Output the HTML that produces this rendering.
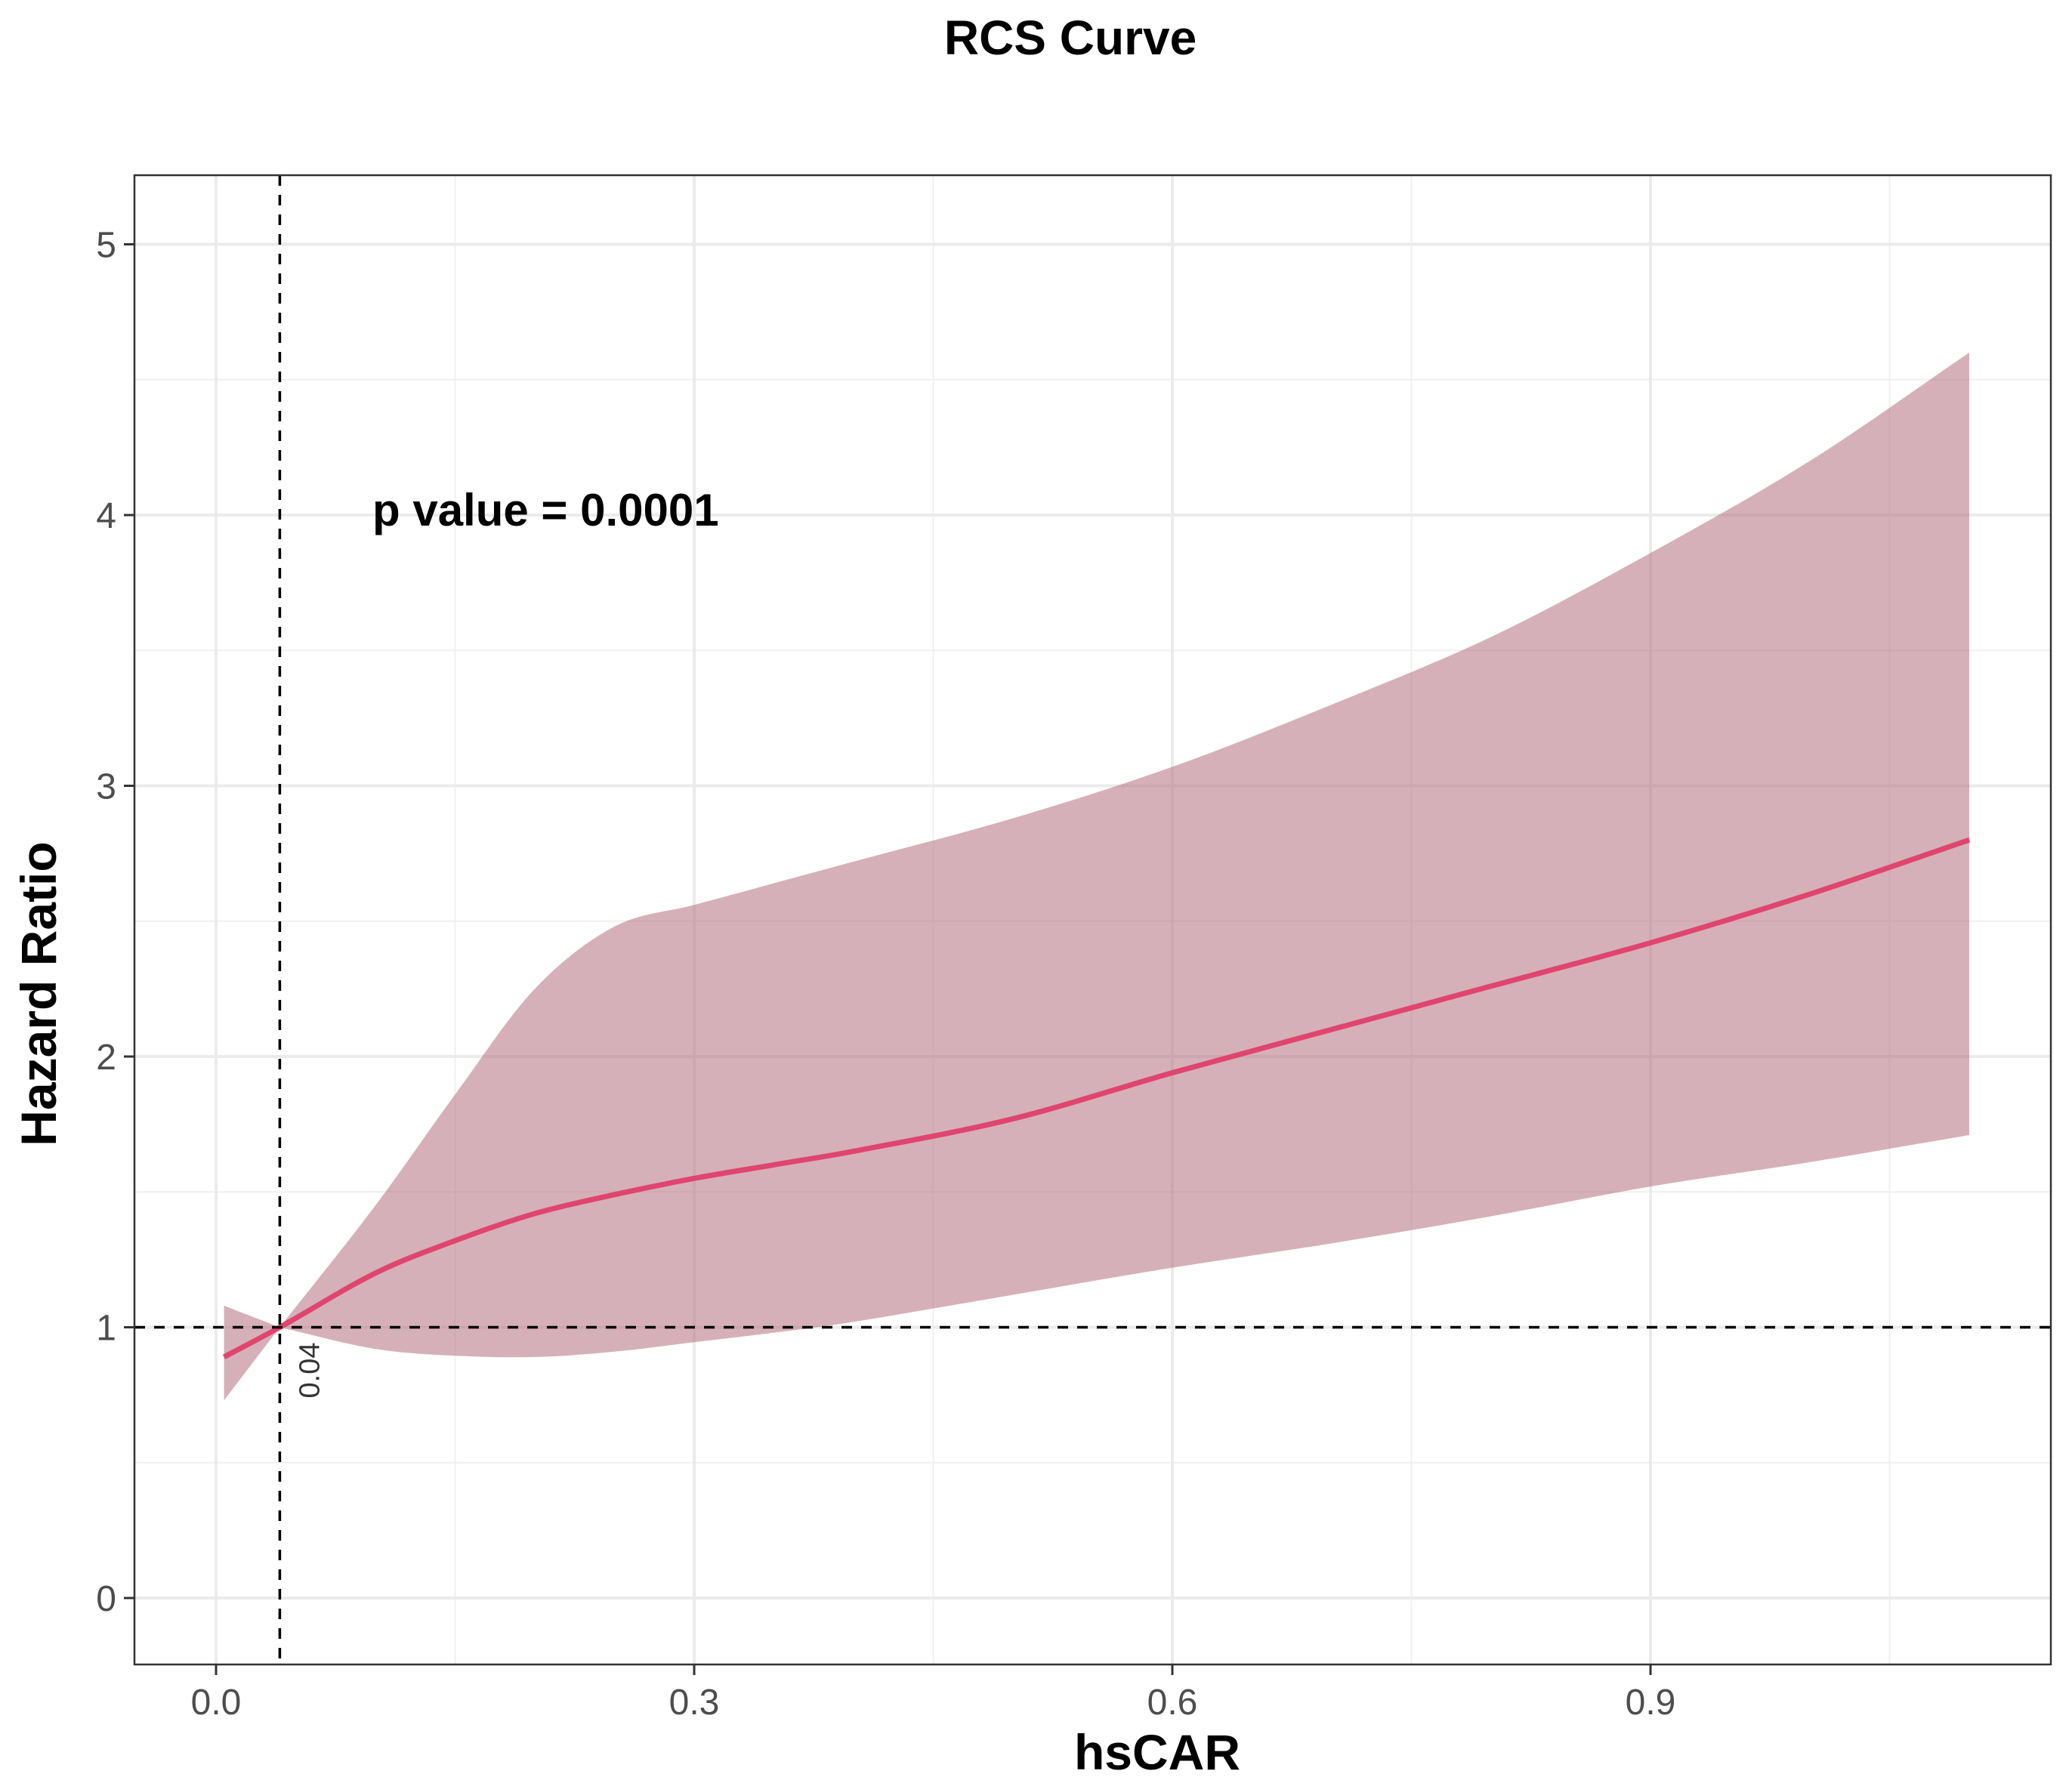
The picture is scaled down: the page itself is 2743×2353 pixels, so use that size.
<!DOCTYPE html>
<html><head><meta charset="utf-8"><style>
html,body{margin:0;padding:0;background:#fff}
svg{display:block}
</style></head><body>
<svg id="chart" width="2743" height="2353" viewBox="0 0 2743 2353" xmlns="http://www.w3.org/2000/svg" font-family="'Liberation Sans', sans-serif">
<text x="1417" y="72" text-anchor="middle" font-size="64" font-weight="bold">RCS Curve</text>
<g id="grid"></g>
<g id="marks"></g>
<g id="axes"></g>
<text x="493" y="696" font-size="60" font-weight="bold">p value = 0.0001</text>
<text x="1532" y="2343" text-anchor="middle" font-size="66" font-weight="bold">hsCAR</text>
<text transform="translate(74,1316) rotate(-90)" text-anchor="middle" font-size="66" font-weight="bold">Hazard Ratio</text>
</svg>
<script>
const xs = [0.005,0.04,0.1,0.15,0.2,0.25,0.3,0.35,0.4,0.5,0.6,0.7,0.8,0.9,1.0,1.1];
const hrMean = [0.89,1.0,1.2,1.32,1.42,1.49,1.55,1.6,1.65,1.77,1.94,2.1,2.26,2.42,2.6,2.8];
const hrUpper = [1.08,1.0,1.45,1.86,2.25,2.48,2.56,2.64,2.72,2.88,3.07,3.3,3.55,3.86,4.2,4.6];
const hrLower = [0.73,1.0,0.92,0.895,0.89,0.91,0.945,0.98,1.02,1.12,1.22,1.31,1.41,1.52,1.61,1.71];
const xTicks = [0.0,0.3,0.6,0.9];
const xTickLabels = ["0.0","0.3","0.6","0.9"];
const xMinor = [0.15,0.45,0.75,1.05];
const yTicks = [0,1,2,3,4,5];
const yTickLabels = ["0","1","2","3","4","5"];
const yMinor = [0.5,1.5,2.5,3.5,4.5];
const refX = 0.04;
const refXLabel = "0.04";
const refY = 1;

const P = {l:178, r:2715, t:232, b:2204};
const sx = v => 286 + v*2110;
const sy = v => 2116 - v*358.5;
const NS = "http://www.w3.org/2000/svg";
function mk(tag, attrs, parent){const e=document.createElementNS(NS,tag);for(const k in attrs)e.setAttribute(k,attrs[k]);parent.appendChild(e);return e;}
const grid=document.getElementById('grid'), marks=document.getElementById('marks'), axes=document.getElementById('axes');

mk('rect',{x:P.l,y:P.t,width:P.r-P.l,height:P.b-P.t,fill:'#fff'},grid);
xMinor.forEach(v=>{const e=mk('line',{x1:sx(v),x2:sx(v),y1:P.t,y2:P.b,stroke:'#f0f0f0','stroke-width':2},grid);

});
yMinor.forEach(v=>{const e=mk('line',{x1:P.l,x2:P.r,y1:sy(v),y2:sy(v),stroke:'#f0f0f0','stroke-width':2},grid);

});
xTicks.forEach(v=>{const e=mk('line',{x1:sx(v),x2:sx(v),y1:P.t,y2:P.b,stroke:'#ebebeb','stroke-width':4},grid);

});
yTicks.forEach(v=>{const e=mk('line',{x1:P.l,x2:P.r,y1:sy(v),y2:sy(v),stroke:'#ebebeb','stroke-width':4},grid);

});

// cubic Hermite in data space; breakAt = index where tangent is one-sided (kink)
function hermite(xv, yv, breakAt){
  const n=xv.length, m=[];
  for(let i=0;i<n;i++){
    if(i===0) m.push((yv[1]-yv[0])/(xv[1]-xv[0]));
    else if(i===n-1) m.push((yv[n-1]-yv[n-2])/(xv[n-1]-xv[n-2]));
    else m.push((yv[i+1]-yv[i-1])/(xv[i+1]-xv[i-1]));
  }
  const segs=[];
  for(let i=0;i<n-1;i++){
    const dx=xv[i+1]-xv[i];
    let m0=m[i], m1=m[i+1];
    if(breakAt!==undefined){
      if(i===breakAt) m0=(yv[i+1]-yv[i])/dx;
      if(i+1===breakAt) m1=(yv[i+1]-yv[i])/dx;
    }
    segs.push([sx(xv[i]+dx/3),sy(yv[i]+m0*dx/3),sx(xv[i+1]-dx/3),sy(yv[i+1]-m1*dx/3),sx(xv[i+1]),sy(yv[i+1])]);
  }
  return segs;
}
function segsToD(start, segs){return `M${start[0]},${start[1]}`+segs.map(s=>` C${s[0]},${s[1]} ${s[2]},${s[3]} ${s[4]},${s[5]}`).join('');}
function reverseSegs(start, segs){
  const pts=[start].concat(segs.map(s=>[s[4],s[5]]));
  const out=[];
  for(let i=segs.length-1;i>=0;i--){const s=segs[i];out.push([s[2],s[3],s[0],s[1],pts[i][0],pts[i][1]]);}
  return out;
}
const upS=hermite(xs,hrUpper,1), loS=hermite(xs,hrLower,1);
const upStart=[sx(xs[0]),sy(hrUpper[0])];
const loEnd=[sx(xs[xs.length-1]),sy(hrLower[hrLower.length-1])];
const loStart=[sx(xs[0]),sy(hrLower[0])];
const ribbonD=segsToD(upStart,upS)+` L${loEnd[0]},${loEnd[1]}`+reverseSegs(loStart,loS).map(s=>` C${s[0]},${s[1]} ${s[2]},${s[3]} ${s[4]},${s[5]}`).join('')+' Z';
const rib=mk('path',{d:ribbonD,fill:'#b5707f','fill-opacity':0.55,stroke:'none'},marks);


const ln=mk('path',{d:segsToD([sx(xs[0]),sy(hrMean[0])],hermite(xs,hrMean)),fill:'none',stroke:'#e0456e','stroke-width':7},marks);



const hl=mk('line',{x1:P.l,x2:P.r,y1:sy(refY),y2:sy(refY),stroke:'#000','stroke-width':3.5,'stroke-dasharray':'14 12'},marks);


const vl=mk('line',{x1:sx(refX),x2:sx(refX),y1:P.t,y2:P.b,stroke:'#000','stroke-width':3.5,'stroke-dasharray':'14 12'},marks);


const rl=mk('text',{transform:`translate(${sx(refX)+52},${sy(refY)+20}) rotate(-90)`,'text-anchor':'end','font-size':38,fill:'#333'},marks);
rl.textContent=refXLabel;



const fr=mk('rect',{x:P.l,y:P.t,width:P.r-P.l,height:P.b-P.t,fill:'none',stroke:'#333','stroke-width':2.5},axes);


xTicks.forEach((v,i)=>{
  mk('line',{x1:sx(v),x2:sx(v),y1:P.b,y2:P.b+14,stroke:'#333','stroke-width':3},axes);
  const t=mk('text',{x:sx(v),y:P.b+66,'text-anchor':'middle','font-size':48,fill:'#4d4d4d'},axes);
  t.textContent=xTickLabels[i];
  
  
});
yTicks.forEach((v,i)=>{
  mk('line',{x1:P.l-14,x2:P.l,y1:sy(v),y2:sy(v),stroke:'#333','stroke-width':3},axes);
  const t=mk('text',{x:P.l-24,y:sy(v)+17,'text-anchor':'end','font-size':48,fill:'#4d4d4d'},axes);
  t.textContent=yTickLabels[i];
  
  
});
</script>
</body></html>
